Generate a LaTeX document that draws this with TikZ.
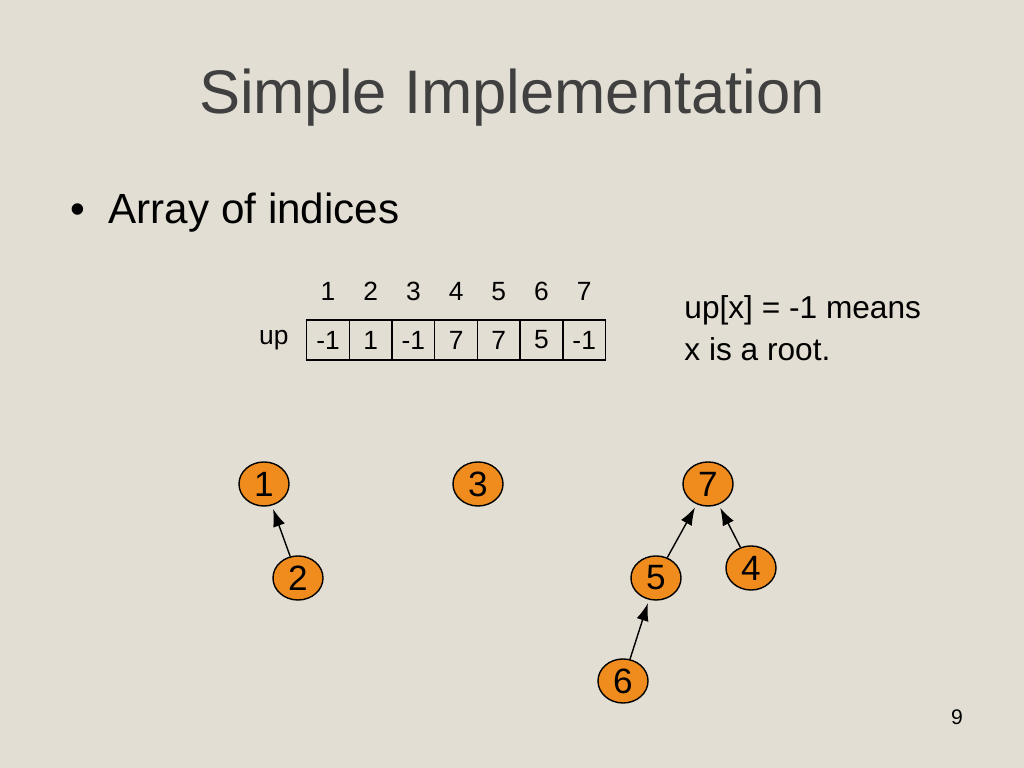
\documentclass[tikz,border=0pt]{standalone}
\usepackage{fontspec}
\setmainfont{Liberation Sans}
\usetikzlibrary{positioning,shapes.geometric,arrows.meta}
\definecolor{mybg}{RGB}{226,222,211}
\definecolor{myorange}{RGB}{240,140,30}
\definecolor{mygrey}{RGB}{64,64,64}
\tikzset{>={Latex[length=5,width=3.5]}}
\tikzstyle{elem}=[ellipse,draw,fill=myorange,minimum width=0.5cm,minimum height=0.44cm,inner sep=0,font=\fontsize{10}{12}\selectfont]
\tikzstyle{cell}=[draw,minimum width=0.427cm,minimum height=0.4cm,inner sep=0,font=\fontsize{7.5}{9}\selectfont]
\tikzstyle{link}=[->,thin,shorten >=1]
\begin{document}
\begin{tikzpicture}[x=0.01cm,y=-0.01cm]
\fill[mybg] (0,0) rectangle (1024,768);
\useasboundingbox (0,0) rectangle (1024,768);

% title and bullet
\node[text=mygrey,font=\fontsize{17.5}{20}\selectfont] (title) at (512,98) {Simple Implementation};
\node[anchor=west,font=\fontsize{12}{14}\selectfont] (bullet) at (58,213) {\textbullet\ \ Array of indices};

% array
\foreach \v [count=\i] in {-1,1,-1,7,7,5,-1} {
  \node[cell] (c\i) at (328+42.7*\i-42.7,340) {\v};
  \node[font=\fontsize{7.5}{9}\selectfont,above=0.06cm of c\i] (h\i) {\i};
}
\node[font=\fontsize{7.5}{9}\selectfont,left=0.05cm of c1] (up) {up};
\node[anchor=north west,align=left,font=\fontsize{9}{12}\selectfont] (note) at (672,283) {up[x] = -1 means\\x is a root.};

% trees
\node[elem] (n1) at (264,484) {1};
\node[elem] (n3) at (478,484) {3};
\node[elem] (n7) at (708,484) {7};
\node[elem] (n2) at (298,578) {2};
\node[elem] (n5) at (656,578) {5};
\node[elem] (n4) at (751,568) {4};
\node[elem] (n6) at (623,681) {6};

\draw[link] (n2) -- (n1);
\draw[link] (n5) -- (n7);
\draw[link] (n4) -- (n7);
\draw[link] (n6) -- (n5);

\node[font=\fontsize{6}{7}\selectfont] (page) at (957,717) {9};
\end{tikzpicture}
\end{document}
